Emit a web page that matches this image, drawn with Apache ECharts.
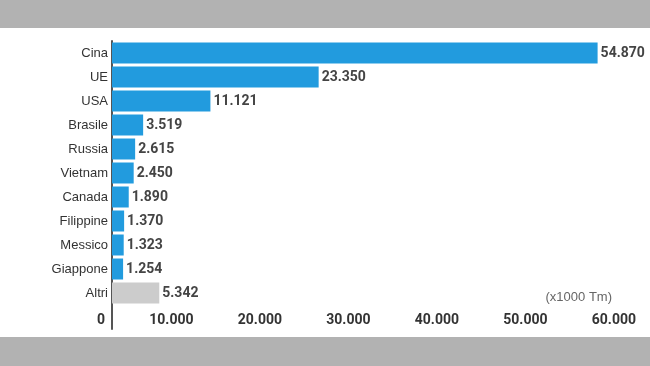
<!DOCTYPE html>
<html>
<head>
<meta charset="utf-8">
<script src="https://cdn.jsdelivr.net/npm/echarts@6/dist/echarts.min.js"></script>
<style>
html,body{margin:0;padding:0;background:#b2b2b2;width:650px;height:366px;overflow:hidden;}
#c{position:absolute;left:0;top:28px;width:650px;height:309px;background:#fff;}
</style>
</head>
<body>
<div id="c"></div>
<script>
const categories = ['Cina','UE','USA','Brasile','Russia','Vietnam','Canada','Filippine','Messico','Giappone','Altri'];
const values = [54870, 23350, 11121, 3519, 2615, 2450, 1890, 1370, 1323, 1254, 5342];
const xTicks = [0, 10000, 20000, 30000, 40000, 50000, 60000];
const unitLabel = '(x1000 Tm)';

function fmt(v){ return String(v).replace(/\B(?=(\d{3})+(?!\d))/g, '.'); }

const chart = echarts.init(document.getElementById('c'), null, {renderer:'canvas'});
const cats = categories.concat(['']);
const data = values.map((v,i)=>({
  value: v,
  itemStyle: {color: categories[i]==='Altri' ? '#cccccc' : '#229bde'}
}));
data.push({value: null});

chart.setOption({
  animation:false,
  title:{
    text: unitLabel,
    right: 33, top: 258,
    textStyle:{fontFamily:'Arial, "Liberation Sans", sans-serif', fontSize:13, fontWeight:'normal', color:'#666'}
  },
  grid:{left:112, right:7, top:13, height:288, containLabel:false},
  xAxis:{
    type:'value', min:xTicks[0], max:xTicks[xTicks.length-1], interval:10000,
    axisLine:{show:false}, axisTick:{show:false}, splitLine:{show:false},
    axisLabel:{
      inside:true, margin:2, align:'right', padding:[0,7,0,0],
      formatter: v => fmt(v),
      fontFamily:'Roboto, Arial, sans-serif', fontSize:14, fontWeight:'bold', color:'#333'
    }
  },
  yAxis:{
    type:'category', data:cats, inverse:true,
    axisLine:{show:true, lineStyle:{color:'#555', width:2}},
    axisTick:{show:false},
    axisLabel:{margin:4, fontFamily:'Arial, "Liberation Sans", sans-serif', fontSize:13, color:'#333'}
  },
  series:[{
    type:'bar', data:data, barWidth:21,
    label:{
      show:true, position:'right', distance:3,
      formatter: p => fmt(p.value),
      fontFamily:'Roboto, Arial, sans-serif', fontSize:14, fontWeight:'bold', color:'#444'
    }
  }]
});
</script>
</body>
</html>
